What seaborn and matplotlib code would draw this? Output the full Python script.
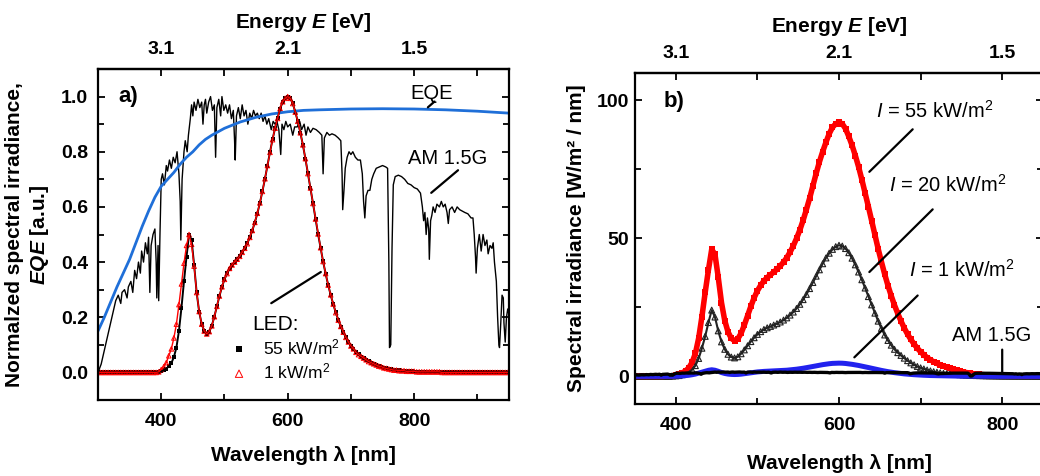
import numpy as np
import matplotlib
matplotlib.use("Agg")
import matplotlib.pyplot as plt
from matplotlib.ticker import MultipleLocator, FixedLocator, FormatStrFormatter
import seaborn as sns

# ---------------------------------------------------------------------------
# Data
# ---------------------------------------------------------------------------
# LED spectra are sampled every 4 nm from 300 to 948 nm (W/m^2/nm)
wavelength = np.arange(300, 949, 4)

led_55 = [
    0, 0, 0, 0, 0, 0, 0, 0, 0, 0,                                  # 300-336
    0, 0, 0, 0, 0, 0, 0, 0, 0, 0,                                  # 340-376
    0.0, 0.0, 0.1, 0.1, 0.2, 0.4, 0.7, 1.3, 2.0, 3.1,              # 380-416
    5.1, 8.3, 13.8, 21.6, 30.4, 38.6, 46.0, 44.2, 35.9, 26.7,      # 420-456
    20.2, 16.1, 13.8, 12.9, 13.6, 15.6, 18.6, 22.0, 25.4, 28.5,    # 460-496
    31.0, 33.0, 34.6, 35.8, 36.8, 37.8, 38.8, 40.0, 41.4, 43.0,    # 500-536
    45.0, 47.3, 50.0, 53.0, 56.5, 60.4, 64.5, 69.0, 73.5, 77.7,    # 540-576
    81.4, 84.8, 87.9, 90.2, 91.5, 92.0, 91.5, 89.7, 86.9, 83.7,    # 580-616
    80.0, 75.9, 71.3, 66.4, 61.5, 56.4, 51.2, 46.2, 41.5, 37.0,    # 620-656
    32.9, 29.2, 25.8, 22.8, 20.0, 17.5, 15.3, 13.4, 11.7, 10.2,    # 660-696
    8.9, 7.8, 6.8, 6.0, 5.3, 4.7, 4.2, 3.7, 3.3, 2.9,              # 700-736
    2.5, 2.2, 1.9, 1.6, 1.4, 1.2, 1.0, 0.85, 0.75, 0.65,           # 740-776
    0.55, 0.5, 0.45, 0.4, 0.35, 0.3, 0.27, 0.24, 0.21, 0.19,       # 780-816
    0.17, 0.15, 0.14, 0.13, 0.12, 0.11, 0.1, 0.09, 0.08, 0.07,     # 820-856
    0.07, 0.06, 0.06, 0.05, 0.05, 0.05, 0.04, 0.04, 0.04, 0.03,    # 860-896
    0.03, 0.03, 0.03, 0.02, 0.02, 0.02, 0.02, 0.02, 0.01, 0.01,    # 900-936
    0.01, 0.01, 0.01,                                              # 940-948
]

led_20 = [
    0, 0, 0, 0, 0, 0, 0, 0, 0, 0,
    0, 0, 0, 0, 0, 0, 0, 0, 0, 0,
    0.0, 0.0, 0.0, 0.0, 0.1, 0.2, 0.3, 0.6, 1.0, 1.6,
    2.4, 3.9, 6.5, 10.2, 14.5, 19.5, 24.0, 21.5, 16.5, 12.5,
    9.8, 8.0, 7.0, 6.7, 7.1, 8.2, 9.6, 11.1, 12.6, 14.0,
    15.2, 16.2, 17.0, 17.6, 18.1, 18.6, 19.1, 19.7, 20.4, 21.2,
    22.2, 23.3, 24.6, 26.1, 27.8, 29.7, 31.8, 34.0, 36.3, 38.6,
    40.8, 42.9, 44.6, 46.0, 47.0, 47.5, 47.2, 46.3, 44.8, 42.8,
    40.4, 37.8, 35.0, 32.0, 28.9, 25.9, 22.9, 20.0, 17.4, 15.0,
    13.0, 11.3, 9.8, 8.6, 7.6, 6.6, 5.7, 4.9, 4.2, 3.6,
    3.1, 2.7, 2.3, 2.0, 1.7, 1.5, 1.3, 1.1, 1.0, 0.9,
    0.8, 0.7, 0.6, 0.5, 0.45, 0.4, 0.35, 0.3, 0.27, 0.24,
    0.2, 0.18, 0.16, 0.14, 0.12, 0.1, 0.09, 0.08, 0.07, 0.06,
    0.05, 0.05, 0.04, 0.04, 0.03, 0.03, 0.03, 0.02, 0.02, 0.02,
    0.02, 0.02, 0.01, 0.01, 0.01, 0.01, 0.01, 0.01, 0.01, 0.01,
    0.01, 0.01, 0.01, 0, 0, 0, 0, 0, 0, 0,
    0, 0, 0,
]

led_1 = [
    0, 0, 0, 0, 0, 0, 0, 0, 0, 0,
    0, 0, 0, 0, 0, 0, 0, 0, 0, 0,
    0.0, 0.0, 0.0, 0.0, 0.01, 0.05, 0.10, 0.17, 0.29, 0.41,
    0.60, 0.84, 1.18, 1.54, 1.90, 2.21, 2.40, 2.23, 1.85, 1.39,
    1.06, 0.84, 0.72, 0.67, 0.71, 0.81, 0.97, 1.15, 1.33, 1.49,
    1.62, 1.72, 1.81, 1.87, 1.92, 1.97, 2.02, 2.09, 2.16, 2.24,
    2.35, 2.47, 2.61, 2.77, 2.95, 3.15, 3.37, 3.60, 3.83, 4.05,
    4.25, 4.42, 4.59, 4.71, 4.77, 4.80, 4.77, 4.68, 4.53, 4.37,
    4.17, 3.96, 3.72, 3.46, 3.21, 2.94, 2.67, 2.41, 2.17, 1.93,
    1.72, 1.52, 1.35, 1.19, 1.04, 0.91, 0.80, 0.70, 0.61, 0.53,
    0.46, 0.41, 0.35, 0.31, 0.28, 0.25, 0.22, 0.19, 0.17, 0.15,
    0.13, 0.11, 0.10, 0.08, 0.07, 0.06, 0.05, 0.04, 0.04, 0.03,
    0.03, 0.03, 0.02, 0.02, 0.02, 0.02, 0.01, 0.01, 0.01, 0.01,
    0.01, 0.01, 0.01, 0.01, 0.01, 0.01, 0, 0, 0, 0,
    0, 0, 0, 0, 0, 0, 0, 0, 0, 0,
    0, 0, 0, 0, 0, 0, 0, 0, 0, 0,
    0, 0, 0,
]

# AM 1.5G reference spectrum, normalised to its maximum
am_wl = [
    300, 305, 310, 315, 320, 324, 328, 332, 336, 338, 342, 346, 348, 352,
    355, 358, 361, 364, 367, 369, 372, 375, 378, 380, 382, 384, 387, 390,
    392, 393, 395, 396, 398, 400, 402, 405, 408, 410, 413, 416, 419, 422,
    425, 428, 430, 431, 433, 436, 438, 441, 443, 446, 448, 450, 452, 455,
    458, 461, 464, 466, 468, 470, 472, 475, 478, 481, 484, 486, 488, 491,
    494, 496, 499, 502, 505, 508, 511, 514, 516, 517, 519, 522, 525, 528,
    531, 534, 537, 540, 543, 546, 549, 552, 555, 558, 561, 564, 567, 570,
    574, 577, 580, 583, 586, 589, 591, 594, 597, 600, 604, 608, 611, 615,
    619, 622, 626, 629, 632, 636, 640, 645, 650, 654, 656, 658, 662, 666,
    670, 675, 680, 684, 686, 687, 689, 691, 694, 697, 700, 703, 707, 711,
    715, 718, 720, 722, 724, 727, 730, 733, 736, 740, 745, 750, 755, 758,
    760, 761, 763, 765, 767, 770, 775, 780, 785, 790, 795, 800, 805, 810,
    813, 815, 817, 819, 821, 823, 824, 826, 828, 830, 833, 836, 840, 843,
    846, 849, 852, 854, 856, 860, 864, 868, 872, 876, 880, 885, 890, 893,
    895, 897, 898, 900, 903, 906, 909, 912, 915, 917, 920, 923, 925, 927,
    930, 932, 934, 935, 937, 939, 941, 942, 944, 946, 948, 950,
]
am_norm = [
    0.00, 0.03, 0.08, 0.13, 0.18, 0.22, 0.26, 0.28, 0.25, 0.29, 0.30, 0.27, 0.31, 0.33,
    0.29, 0.37, 0.34, 0.40, 0.36, 0.44, 0.40, 0.47, 0.43, 0.49, 0.29, 0.46, 0.50, 0.52,
    0.40, 0.27, 0.46, 0.26, 0.50, 0.70, 0.72, 0.68, 0.75, 0.73, 0.77, 0.74, 0.78, 0.76,
    0.80, 0.72, 0.62, 0.48, 0.70, 0.80, 0.84, 0.80, 0.86, 0.92, 0.97, 0.93, 0.98, 0.95,
    0.99, 0.96, 0.98, 0.90, 0.97, 0.99, 0.94, 0.98, 1.00, 0.95, 0.97, 0.78, 0.96, 0.99,
    0.93, 1.00, 0.95, 0.97, 0.94, 0.97, 0.92, 0.95, 0.84, 0.77, 0.93, 0.96, 0.92, 0.97,
    0.93, 0.95, 0.90, 0.94, 0.92, 0.95, 0.93, 0.94, 0.92, 0.94, 0.91, 0.93, 0.90, 0.92,
    0.88, 0.91, 0.90, 0.91, 0.88, 0.79, 0.90, 0.88, 0.91, 0.89, 0.90, 0.86, 0.89, 0.89,
    0.91, 0.88, 0.90, 0.86, 0.89, 0.87, 0.885, 0.88, 0.87, 0.86, 0.72, 0.85, 0.87, 0.86,
    0.865, 0.86, 0.85, 0.84, 0.72, 0.59, 0.66, 0.74, 0.78, 0.80, 0.79, 0.80, 0.78, 0.77,
    0.77, 0.72, 0.62, 0.56, 0.64, 0.66, 0.66, 0.70, 0.72, 0.74, 0.745, 0.75, 0.745, 0.74,
    0.40, 0.09, 0.10, 0.45, 0.68, 0.71, 0.715, 0.71, 0.70, 0.685, 0.68, 0.67, 0.665, 0.65,
    0.60, 0.55, 0.58, 0.50, 0.56, 0.52, 0.41, 0.55, 0.57, 0.60, 0.58, 0.61, 0.60, 0.62,
    0.60, 0.61, 0.58, 0.54, 0.59, 0.60, 0.58, 0.60, 0.59, 0.585, 0.58, 0.575, 0.56, 0.56,
    0.50, 0.42, 0.36, 0.45, 0.50, 0.44, 0.50, 0.46, 0.48, 0.43, 0.46, 0.45, 0.47, 0.40,
    0.33, 0.20, 0.10, 0.09, 0.18, 0.28, 0.27, 0.18, 0.11, 0.20, 0.23, 0.21,
]
AM15_PEAK = 1.6  # W/m^2/nm, maximum of the AM 1.5G spectrum

# External quantum efficiency of the cell
eqe_wl = [300, 310, 320, 330, 340, 350, 360, 370, 380, 390, 400, 410, 420,
          430, 440, 450, 460, 470, 480, 500, 525, 550, 575, 600, 625, 650,
          700, 750, 800, 850, 900, 950]
eqe = [0.15, 0.20, 0.255, 0.31, 0.36, 0.41, 0.47, 0.53, 0.585, 0.635, 0.675,
       0.70, 0.725, 0.755, 0.78, 0.80, 0.825, 0.845, 0.86, 0.885, 0.908,
       0.925, 0.937, 0.945, 0.95, 0.952, 0.955, 0.956, 0.955, 0.952, 0.947,
       0.94]

# Photon-energy labels for the top axis
energy_tick_wl = [400, 600, 800]
energy_tick_labels = ["3.1", "2.1", "1.5"]

# ---------------------------------------------------------------------------
# Style
# ---------------------------------------------------------------------------
sns.set_theme(style="ticks")
plt.rcParams.update({
    "font.family": ["Liberation Sans", "DejaVu Sans"],
    "font.weight": "bold",
    "axes.labelweight": "bold",
    "text.color": "black",
    "axes.labelcolor": "black",
    "mathtext.fontset": "custom",
    "mathtext.rm": "Liberation Sans:regular",
    "mathtext.it": "Liberation Sans:italic:regular",
    "mathtext.bf": "Liberation Sans:bold",
    "mathtext.bfit": "Liberation Sans:bold:italic",
    "axes.linewidth": 1.6,
    "axes.edgecolor": "black",
    "xtick.direction": "in",
    "ytick.direction": "in",
    "xtick.color": "black",
    "ytick.color": "black",
    "xtick.labelcolor": "black",
    "ytick.labelcolor": "black",
})

TICK_FS = 14
LABEL_FS = 15
ANN_FS = 14.5

fig = plt.figure(figsize=(10.4, 4.76), dpi=100)
W, H = 1040, 476
ax_a = fig.add_axes([98 / W, 1 - 400 / H, 411 / W, 331 / H])
ax_b = fig.add_axes([635 / W, 1 - 404 / H, 408 / W, 331.3 / H])


def style_axes(ax, ymajor, yminor, xlabelpad):
    ax.xaxis.set_major_locator(MultipleLocator(200))
    ax.xaxis.set_minor_locator(MultipleLocator(100))
    ax.yaxis.set_major_locator(MultipleLocator(ymajor))
    ax.yaxis.set_minor_locator(MultipleLocator(yminor))
    ax.tick_params(which="both", top=False, right=True, width=1.3)
    ax.tick_params(which="major", length=5)
    ax.tick_params(which="minor", length=4)
    ax.tick_params(axis="both", labelsize=TICK_FS)
    ax.tick_params(axis="x", pad=9)
    for sp in ax.spines.values():
        sp.set_visible(True)
        sp.set_linewidth(1.6)
    top = ax.secondary_xaxis("top")
    top.xaxis.set_major_locator(FixedLocator(energy_tick_wl))
    top.set_xticklabels(energy_tick_labels)
    top.xaxis.set_minor_locator(MultipleLocator(100))
    top.tick_params(which="both", direction="in", width=1.3, labelsize=TICK_FS, pad=8)
    top.tick_params(which="major", length=5)
    top.tick_params(which="minor", length=5)
    top.spines["top"].set_linewidth(1.6)
    top.set_xlabel(r"Energy $\mathbfit{E}$ [eV]", fontsize=LABEL_FS, labelpad=9)
    ax.set_xlabel("Wavelength λ [nm]", fontsize=LABEL_FS, labelpad=xlabelpad)
    return top


def pointer(ax, p0, p1):
    ax.annotate("", xy=p1, xytext=p0,
                arrowprops=dict(arrowstyle="-", color="black", lw=1.6,
                                shrinkA=0, shrinkB=0))


def note(ax, x, y, s, size=ANN_FS, ha="left"):
    ax.text(x, y, s, fontsize=size, fontweight="normal", color="black",
            ha=ha, va="baseline")


# ---------------------------------------------------------------------------
# Panel a: normalised spectra and EQE
# ---------------------------------------------------------------------------
led_55_norm = np.asarray(led_55) / np.max(led_55)
led_1_norm = np.asarray(led_1) / np.max(led_1)

sns.lineplot(x=am_wl, y=am_norm, ax=ax_a, color="black", lw=1.0,
             estimator=None, sort=False)
sns.lineplot(x=eqe_wl, y=eqe, ax=ax_a, color="#1f6fd8", lw=2.0,
             estimator=None, sort=False)
sns.lineplot(x=wavelength, y=led_55_norm, ax=ax_a, color="black", lw=1.4,
             estimator=None, sort=False)
sns.scatterplot(x=wavelength, y=led_55_norm, ax=ax_a, marker="s", s=7,
                color="black", linewidth=0, label="55 kW/m$^2$")
sns.lineplot(x=wavelength, y=led_1_norm, ax=ax_a, color="red", lw=1.0,
             estimator=None, sort=False)
sns.scatterplot(x=wavelength, y=led_1_norm, ax=ax_a, marker="^", s=11,
                facecolor="none", edgecolor="red", linewidth=0.7,
                label="1 kW/m$^2$")

ax_a.set_xlim(300, 950)
ax_a.set_ylim(-0.1, 1.1)
ax_a.yaxis.set_major_formatter(FormatStrFormatter("%.1f"))
style_axes(ax_a, 0.2, 0.1, xlabelpad=12)
ax_a.set_ylabel("Normalzed spectral irradiance,\n$\\mathbfit{EQE}$ [a.u.]",
                fontsize=LABEL_FS, labelpad=7, linespacing=1.25)
ax_a.tick_params(axis="y", pad=7)

ax_a.text(333, 1.0, "a)", fontsize=16, fontweight="bold", ha="left", va="center")
note(ax_a, 828, 0.992, "EQE", ha="center")
pointer(ax_a, (821.7, 0.961), (832.2, 0.982))
note(ax_a, 791, 0.755, "AM 1.5G")
pointer(ax_a, (827, 0.651), (869.4, 0.733))
note(ax_a, 544, 0.152, "LED:", size=15)
pointer(ax_a, (574, 0.251), (652.4, 0.364))

handles, labels = ax_a.get_legend_handles_labels()
ax_a.legend(handles[-2:], labels[-2:], loc="upper left",
            bbox_to_anchor=(0.322, 0.19), frameon=False,
            prop={"size": 12.5, "weight": "normal"}, markerscale=1.6,
            handlelength=1.0, handletextpad=0.9, labelspacing=0.25,
            borderpad=0, borderaxespad=0)

# ---------------------------------------------------------------------------
# Panel b: absolute spectral irradiance
# ---------------------------------------------------------------------------
am_abs = np.asarray(am_norm) * AM15_PEAK

sns.lineplot(x=wavelength, y=led_55, ax=ax_b, color="red", lw=4.0,
             estimator=None, sort=False)
sns.scatterplot(x=wavelength, y=led_55, ax=ax_b, marker="s", s=22,
                color="red", linewidth=0)
sns.lineplot(x=wavelength, y=led_20, ax=ax_b, color="#222222", lw=1.5,
             estimator=None, sort=False)
sns.scatterplot(x=wavelength, y=led_20, ax=ax_b, marker="^", s=18,
                facecolor="none", edgecolor="#222222", linewidth=0.8)
sns.lineplot(x=wavelength, y=led_1, ax=ax_b, color="#2222ee", lw=3.6,
             estimator=None, sort=False)
sns.lineplot(x=am_wl, y=am_abs, ax=ax_b, color="black", lw=2.4,
             estimator=None, sort=False)

ax_b.set_xlim(350, 850)
ax_b.set_ylim(-10, 110)
style_axes(ax_b, 50, 25, xlabelpad=15)
ax_b.set_ylabel("Spectral irradiance [W/m² / nm]", fontsize=LABEL_FS, labelpad=8)
ax_b.tick_params(axis="y", pad=4)

ax_b.text(385.6, 99.7, "b)", fontsize=16, fontweight="bold", ha="left", va="center")
note(ax_b, 645, 93.6, r"$\mathit{I}$ = 55 kW/m$^2$")
pointer(ax_b, (637.2, 74.1), (690.3, 89.5))
note(ax_b, 661.7, 66.8, r"$\mathit{I}$ = 20 kW/m$^2$")
pointer(ax_b, (637.2, 37.8), (714.8, 60.5))
note(ax_b, 686.3, 35.9, r"$\mathit{I}$ = 1 kW/m$^2$")
pointer(ax_b, (618.8, 6.9), (696.4, 29.3))
note(ax_b, 739, 13.0, "AM 1.5G")
pointer(ax_b, (800, 1.0), (800, 9.7))

fig.savefig("out.png", dpi=100, facecolor="white")
